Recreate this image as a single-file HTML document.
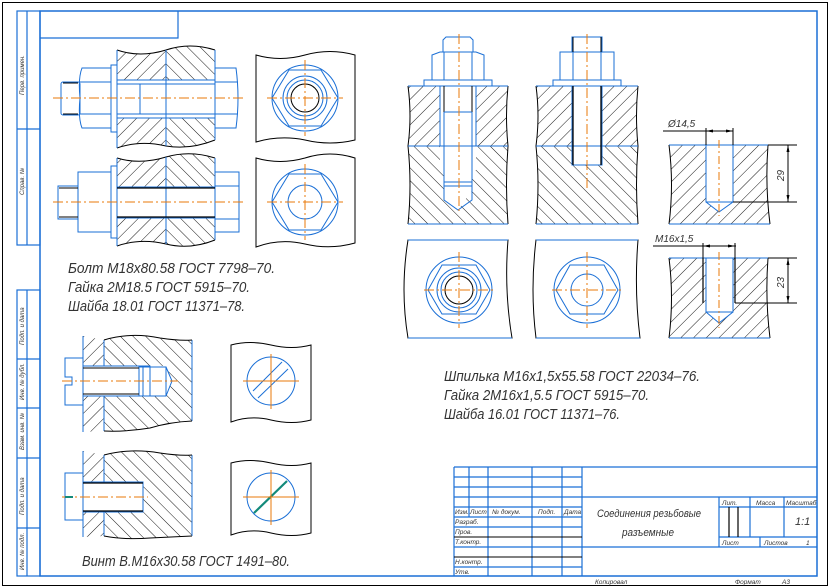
<!DOCTYPE html>
<html><head><meta charset="utf-8"><style>
html,body{margin:0;padding:0;background:#fff;}
svg{display:block;}
text{font-family:"Liberation Sans","DejaVu Sans",sans-serif;font-style:italic;fill:#333;}
</style></head><body>
<svg width="830" height="588" viewBox="0 0 830 588" xmlns="http://www.w3.org/2000/svg">
<defs>
<pattern id="hr" width="9" height="9" patternUnits="userSpaceOnUse" patternTransform="rotate(45)"><line x1="0" y1="0" x2="0" y2="9" stroke="#000" stroke-width="0.9"/></pattern>
<pattern id="hl" width="9" height="9" patternUnits="userSpaceOnUse" patternTransform="rotate(-45)"><line x1="0" y1="0" x2="0" y2="9" stroke="#000" stroke-width="0.9"/></pattern>
</defs>
<g fill="none">
<rect x="2.5" y="2.5" width="825" height="583" stroke="#000" stroke-width="1"/>
<rect x="40" y="11" width="777" height="565" stroke="#1a6fd6" stroke-width="1.5"/>
<g stroke="#1a6fd6" stroke-width="1.2">
<rect x="17" y="11" width="23" height="234"/><line x1="27" y1="11" x2="27" y2="245"/><line x1="17" y1="129" x2="40" y2="129"/>
<rect x="17" y="290" width="23" height="286"/><line x1="27" y1="290" x2="27" y2="576"/>
<line x1="17" y1="359" x2="40" y2="359"/><line x1="17" y1="408" x2="40" y2="408"/><line x1="17" y1="458" x2="40" y2="458"/><line x1="17" y1="528" x2="40" y2="528"/>
<polyline points="40,38 178,38 178,11"/>
</g>
</g>
<g font-size="6" fill="#333">
<text transform="translate(24,95) rotate(-90)">Перв. примен.</text>
<text transform="translate(24,195) rotate(-90)">Справ. №</text>
<text transform="translate(24,345) rotate(-90)">Подп. и дата</text>
<text transform="translate(24,400) rotate(-90)">Инв. № дубл.</text>
<text transform="translate(24,450) rotate(-90)">Взам. инв. №</text>
<text transform="translate(24,515) rotate(-90)">Подп. и дата</text>
<text transform="translate(24,570) rotate(-90)">Инв. № подл.</text>
</g>

<!-- Bolt 1 -->
<g stroke-width="1">
<path d="M117,50 Q140,58 166,50 L166,80 L117,80 Z" fill="url(#hr)"/>
<path d="M166,50 Q190,42 215,50 L215,80 L166,80 Z" fill="url(#hl)"/>
<path d="M117,118 L166,118 L166,146 Q140,140 117,148 Z" fill="url(#hr)"/>
<path d="M166,118 L215,118 L215,140 Q190,150 166,146 Z" fill="url(#hl)"/>
<path d="M117,50 Q140,58 166,50 Q190,42 215,50 M117,148 Q140,140 166,146 Q190,150 215,140" stroke="#000" fill="none"/>
<g stroke="#1a6fd6" fill="none">
<line x1="117" y1="50" x2="117" y2="148"/><line x1="215" y1="50" x2="215" y2="140"/><line x1="166" y1="50" x2="166" y2="146"/>
<line x1="117" y1="80" x2="215" y2="80"/><line x1="117" y1="118" x2="215" y2="118"/>
<line x1="117" y1="84" x2="215" y2="84"/><line x1="117" y1="114" x2="215" y2="114"/>
<rect x="111" y="65" width="6" height="67"/>
<path d="M82,68 L111,68 L111,128 L82,128 Q78,118 80,98 Q78,78 82,68 Z"/><line x1="80" y1="82" x2="111" y2="82"/><line x1="80" y1="114" x2="111" y2="114"/>
<rect x="61" y="82" width="19" height="33" rx="2"/><line x1="140" y1="84" x2="140" y2="114"/>
<path d="M215,68 L236,68 Q240,98 236,128 L215,128 Z"/><line x1="215" y1="82" x2="238" y2="82"/><line x1="215" y1="114" x2="238" y2="114"/>
</g>
<line x1="63" y1="83" x2="78" y2="83" stroke="#000"/><line x1="63" y1="114" x2="78" y2="114" stroke="#000"/>
<line x1="53" y1="98" x2="246" y2="98" stroke="#e8780a" stroke-dasharray="10,3,2,3"/>
<path d="M256,55 Q280,62 305,55 Q330,48 355,55 L355,140 Q330,146 305,140 Q280,135 256,142 Z" stroke="#000" fill="none"/>
<g stroke="#1a6fd6" fill="none"><circle cx="305" cy="98" r="33"/><polygon points="289,70 321,70 338,98 321,126 289,126 272,98"/><circle cx="305" cy="98" r="22"/><circle cx="305" cy="98" r="18"/></g>
<circle cx="305" cy="98" r="14" stroke="#000" fill="none"/>
<g stroke="#e8780a" stroke-dasharray="10,3,2,3"><line x1="267" y1="98" x2="343" y2="98"/><line x1="305" y1="60" x2="305" y2="136"/></g>
</g>

<!-- Bolt 2 -->
<g stroke-width="1">
<path d="M117,158 Q140,165 166,157 L166,187 L117,187 Z" fill="url(#hr)"/>
<path d="M166,157 Q190,150 215,158 L215,187 L166,187 Z" fill="url(#hl)"/>
<path d="M117,218 L166,218 L166,244 Q140,238 117,246 Z" fill="url(#hr)"/>
<path d="M166,218 L215,218 L215,240 Q190,250 166,244 Z" fill="url(#hl)"/>
<path d="M117,158 Q140,165 166,157 Q190,150 215,158 M117,246 Q140,238 166,244 Q190,250 215,240" stroke="#000" fill="none"/>
<g stroke="#1a6fd6" fill="none">
<line x1="117" y1="158" x2="117" y2="246"/><line x1="215" y1="158" x2="215" y2="240"/><line x1="166" y1="157" x2="166" y2="244"/>
<line x1="117" y1="187" x2="215" y2="187"/><line x1="117" y1="218" x2="215" y2="218"/>
<rect x="111" y="166" width="6" height="72"/>
<rect x="78" y="172" width="33" height="60"/><rect x="58" y="186" width="20" height="33"/>
<rect x="215" y="172" width="24" height="60"/><line x1="215" y1="186" x2="239" y2="186"/><line x1="215" y1="219" x2="239" y2="219"/>
</g>
<line x1="117" y1="188" x2="215" y2="188" stroke="#000" stroke-width="1.2"/><line x1="117" y1="217" x2="215" y2="217" stroke="#000" stroke-width="1.2"/>
<line x1="59" y1="188" x2="78" y2="188" stroke="#000"/><line x1="59" y1="217" x2="78" y2="217" stroke="#000"/>
<line x1="53" y1="202" x2="246" y2="202" stroke="#e8780a" stroke-dasharray="10,3,2,3"/>
<path d="M256,158 Q280,165 305,158 Q330,150 355,158 L355,243 Q330,250 305,244 Q280,238 256,247 Z" stroke="#000" fill="none"/>
<g stroke="#1a6fd6" fill="none"><circle cx="305" cy="202" r="33"/><polygon points="289,174 321,174 338,202 321,230 289,230 272,202"/><circle cx="305" cy="202" r="17"/></g>
<g stroke="#e8780a" stroke-dasharray="10,3,2,3"><line x1="267" y1="202" x2="343" y2="202"/><line x1="305" y1="164" x2="305" y2="240"/></g>
</g>

<text x="68" y="273" font-size="14.5" textLength="207" lengthAdjust="spacingAndGlyphs">Болт М18х80.58 ГОСТ 7798–70.</text>
<text x="68" y="292" font-size="14.5" textLength="182" lengthAdjust="spacingAndGlyphs">Гайка 2М18.5 ГОСТ 5915–70.</text>
<text x="68" y="311" font-size="14.5" textLength="177" lengthAdjust="spacingAndGlyphs">Шайба 18.01 ГОСТ 11371–78.</text>

<!-- Screw 1 -->
<g stroke-width="1">
<path d="M83,336 L104,340 L104,366 L83,366 Z M83,396 L104,396 L104,431 L83,432 Z" fill="url(#hr)"/>
<path d="M104,340 Q130,332 160,338 Q180,341 192,340 L192,421 Q170,422 150,428 Q125,432 104,431 L104,396 L166,396 L172,381 L166,366 L104,366 Z" fill="url(#hl)"/>
<g stroke="#1a6fd6" fill="none">
<line x1="83" y1="336" x2="83" y2="432"/><line x1="192" y1="340" x2="192" y2="421"/><line x1="104" y1="340" x2="104" y2="366"/><line x1="104" y1="396" x2="104" y2="431"/>
<path d="M83,358 L65,358 L65,377 L72,377 L72,385 L65,385 L65,405 L83,405"/>
<rect x="83" y="366" width="67" height="30"/><rect x="139" y="367" width="27" height="29"/><line x1="143" y1="367" x2="143" y2="396"/>
<path d="M166,367 L172,381 L166,396"/>
</g>
<path d="M104,340 Q130,332 160,338 Q180,341 192,340 M104,431 Q125,432 150,428 Q170,422 192,421" stroke="#000" fill="none"/>
<line x1="83" y1="368" x2="139" y2="368" stroke="#000"/><line x1="83" y1="394" x2="139" y2="394" stroke="#000"/>
<line x1="62" y1="381" x2="178" y2="381" stroke="#e8780a" stroke-dasharray="10,3,2,3"/>
<path d="M231,345 Q250,340 271,345 Q292,350 311,345 L311,420 Q292,425 271,420 Q250,415 231,422 Z" stroke="#000" fill="none"/>
<circle cx="271" cy="381" r="24" stroke="#1a6fd6" fill="none"/>
<g stroke="#1a6fd6"><line x1="253" y1="391" x2="282" y2="362"/><line x1="258" y1="398" x2="288" y2="369"/></g>
<g stroke="#e8780a"><line x1="243" y1="381" x2="299" y2="381"/><line x1="271" y1="354" x2="271" y2="409"/></g>
</g>

<!-- Screw 2 -->
<g stroke-width="1">
<path d="M83,451 L104,455 L104,482 L83,482 Z M83,512 L104,512 L104,536 L83,537 Z" fill="url(#hr)"/>
<path d="M104,455 Q130,448 160,453 Q180,456 192,455 L192,536 Q170,537 150,538 Q125,540 104,536 L104,512 L143,512 L143,482 L104,482 Z" fill="url(#hl)"/>
<g stroke="#1a6fd6" fill="none">
<line x1="83" y1="451" x2="83" y2="537"/><line x1="192" y1="455" x2="192" y2="536"/><line x1="104" y1="455" x2="104" y2="482"/><line x1="104" y1="512" x2="104" y2="536"/>
<path d="M83,473 L65,473 L65,520 L83,520"/>
<rect x="83" y="482" width="60" height="30"/>
</g>
<path d="M104,455 Q130,448 160,453 Q180,456 192,455 M104,536 Q125,540 150,538 Q170,537 192,536" stroke="#000" fill="none"/>
<line x1="83" y1="483" x2="143" y2="483" stroke="#000" stroke-width="1.3"/><line x1="83" y1="511" x2="143" y2="511" stroke="#000" stroke-width="1.3"/>
<line x1="62" y1="497" x2="148" y2="497" stroke="#e8780a" stroke-dasharray="10,3,2,3"/>
<line x1="65" y1="497" x2="73" y2="497" stroke="#138a7a" stroke-width="2"/>
<path d="M231,463 Q250,458 271,463 Q292,468 311,463 L311,533 Q292,538 271,533 Q250,528 231,535 Z" stroke="#000" fill="none"/>
<circle cx="271" cy="497" r="24" stroke="#1a6fd6" fill="none"/>
<line x1="254" y1="513" x2="287" y2="481" stroke="#138a7a" stroke-width="2.2"/>
<g stroke="#e8780a"><line x1="243" y1="497" x2="299" y2="497"/><line x1="271" y1="470" x2="271" y2="525"/></g>
</g>
<text x="82" y="566" font-size="14.5" textLength="208" lengthAdjust="spacingAndGlyphs">Винт В.М16х30.58 ГОСТ 1491–80.</text>

<!-- Stud 1 -->
<g stroke-width="1">
<path d="M408,86 L508,86 Q505,116 508,146 L408,146 Q412,116 408,86 Z" fill="url(#hr)"/>
<path d="M408,146 L508,146 Q505,185 508,224 L408,224 Q412,185 408,146 Z" fill="url(#hl)"/>
<rect x="440" y="86" width="36" height="84" fill="#fff"/><rect x="444" y="170" width="28" height="20" fill="#fff"/><path d="M444,190 L472,190 L458,210 Z" fill="#fff"/>
<path d="M408,86 Q412,116 408,146 Q412,185 408,224 M508,86 Q505,116 508,146 Q505,185 508,224" stroke="#000" fill="none"/>
<g stroke="#1a6fd6" fill="none">
<line x1="408" y1="86" x2="508" y2="86"/><line x1="408" y1="146" x2="508" y2="146"/><line x1="408" y1="224" x2="508" y2="224"/>
<line x1="440" y1="86" x2="440" y2="146"/><line x1="476" y1="86" x2="476" y2="146"/>
<rect x="424" y="80" width="68" height="6"/>
<path d="M432,80 L432,55 L440,52 L476,52 L484,55 L484,80"/><line x1="444" y1="52" x2="444" y2="80"/><line x1="472" y1="52" x2="472" y2="80"/>
<path d="M443,52 L443,40 L446,37 L470,37 L473,40 L473,52"/>
<rect x="444" y="86" width="28" height="100"/><line x1="444" y1="182" x2="472" y2="182"/><path d="M444,186 L444,200 L458,210 L472,200 L472,186"/>
</g>
<line x1="444" y1="86" x2="444" y2="112" stroke="#000"/><line x1="472" y1="86" x2="472" y2="112" stroke="#000"/><line x1="444" y1="112" x2="472" y2="112" stroke="#1a6fd6"/>
<line x1="459" y1="34" x2="459" y2="212" stroke="#e8780a" stroke-dasharray="10,3,2,3"/>
</g>
<!-- Stud 2 -->
<g stroke-width="1">
<path d="M536,86 L638,86 Q635,116 638,146 L536,146 Q540,116 536,86 Z" fill="url(#hr)"/>
<path d="M536,146 L638,146 Q635,185 638,224 L536,224 Q540,185 536,146 Z" fill="url(#hl)"/>
<rect x="572" y="86" width="30" height="79" fill="#fff"/>
<path d="M536,86 Q540,116 536,146 Q540,185 536,224 M638,86 Q635,116 638,146 Q635,185 638,224" stroke="#000" fill="none"/>
<g stroke="#1a6fd6" fill="none">
<line x1="536" y1="86" x2="638" y2="86"/><line x1="536" y1="146" x2="638" y2="146"/><line x1="536" y1="224" x2="638" y2="224"/>
<rect x="553" y="80" width="68" height="6"/>
<rect x="560" y="52" width="54" height="28"/><line x1="573" y1="52" x2="573" y2="80"/><line x1="601" y1="52" x2="601" y2="80"/>
<rect x="572" y="37" width="30" height="15"/>
<rect x="572" y="86" width="30" height="79"/>
</g>
<line x1="573" y1="86" x2="573" y2="165" stroke="#000" stroke-width="1.3"/><line x1="601" y1="86" x2="601" y2="165" stroke="#000" stroke-width="1.3"/>
<line x1="573" y1="37" x2="573" y2="52" stroke="#000"/><line x1="601" y1="37" x2="601" y2="52" stroke="#000"/>
<line x1="587" y1="34" x2="587" y2="190" stroke="#e8780a" stroke-dasharray="10,3,2,3"/>
</g>
<g stroke-width="1">
<path d="M408,240 L508,240 Q504,290 512,338 L408,338 Q400,290 408,240 Z" stroke="#000" fill="none"/>
<line x1="408" y1="240" x2="508" y2="240" stroke="#1a6fd6"/><line x1="408" y1="338" x2="512" y2="338" stroke="#1a6fd6"/>
<g stroke="#1a6fd6" fill="none"><circle cx="459" cy="290" r="33"/><polygon points="442,265 476,265 490,290 476,314 442,314 428,290"/><circle cx="459" cy="290" r="22"/><circle cx="459" cy="290" r="18"/></g>
<circle cx="459" cy="290" r="14" stroke="#000" fill="none"/>
<g stroke="#e8780a" stroke-dasharray="10,3,2,3"><line x1="424" y1="290" x2="496" y2="290"/><line x1="459" y1="252" x2="459" y2="328"/></g>
<path d="M536,240 L638,240 Q634,290 640,338 L536,338 Q530,290 536,240 Z" stroke="#000" fill="none"/>
<line x1="536" y1="240" x2="638" y2="240" stroke="#1a6fd6"/><line x1="536" y1="338" x2="640" y2="338" stroke="#1a6fd6"/>
<g stroke="#1a6fd6" fill="none"><circle cx="587" cy="290" r="33"/><polygon points="570,265 604,265 618,290 604,314 570,314 556,290"/><circle cx="587" cy="290" r="16"/></g>
<g stroke="#e8780a" stroke-dasharray="10,3,2,3"><line x1="552" y1="290" x2="624" y2="290"/><line x1="587" y1="252" x2="587" y2="328"/></g>
</g>

<!-- Holes -->
<g stroke-width="1">
<path d="M669,145 L768,145 Q765,185 770,224 L669,224 Q674,185 669,145 Z" fill="url(#hr)"/>
<path d="M706,145 L733,145 L733,202 L719,212 L706,202 Z" fill="#fff"/>
<path d="M669,145 Q674,185 669,224 M768,145 Q765,185 770,224" stroke="#000" fill="none"/>
<g stroke="#1a6fd6" fill="none"><line x1="669" y1="145" x2="768" y2="145"/><line x1="669" y1="224" x2="770" y2="224"/><rect x="706" y="145" width="27" height="57"/><path d="M706,202 L719,212 L733,202"/></g>
<line x1="719" y1="140" x2="719" y2="216" stroke="#e8780a" stroke-dasharray="8,3,2,3"/>
<g stroke="#000"><line x1="706" y1="145" x2="706" y2="128"/><line x1="733" y1="145" x2="733" y2="128"/><line x1="663" y1="131" x2="733" y2="131"/>
<line x1="733" y1="202" x2="797" y2="202"/><line x1="768" y1="145" x2="797" y2="145"/><line x1="788" y1="145" x2="788" y2="202"/></g>
<g fill="#000"><path d="M706,131 l7,-1.5 v3z"/><path d="M733,131 l-7,-1.5 v3z"/><path d="M788,145 l-1.5,7 h3z"/><path d="M788,202 l-1.5,-7 h3z"/></g>
<text x="668" y="127" font-size="10">Ø14,5</text>
<text transform="translate(784,181) rotate(-90)" font-size="10">29</text>

<path d="M669,258 L768,258 Q765,298 770,338 L669,338 Q674,298 669,258 Z" fill="url(#hr)"/>
<path d="M706,258 L733,258 L733,312 L719,323 L706,312 Z" fill="#fff"/>
<path d="M669,258 Q674,298 669,338 M768,258 Q765,298 770,338" stroke="#000" fill="none"/>
<g stroke="#1a6fd6" fill="none"><line x1="669" y1="258" x2="768" y2="258"/><line x1="669" y1="338" x2="770" y2="338"/><rect x="706" y="258" width="27" height="54"/><path d="M706,312 L719,323 L733,312"/></g>
<line x1="703" y1="258" x2="703" y2="303" stroke="#000" stroke-width="1.2"/><line x1="735" y1="258" x2="735" y2="303" stroke="#000" stroke-width="1.2"/>
<line x1="719" y1="252" x2="719" y2="328" stroke="#e8780a" stroke-dasharray="8,3,2,3"/>
<g stroke="#000"><line x1="703" y1="258" x2="703" y2="243"/><line x1="735" y1="258" x2="735" y2="243"/><line x1="653" y1="246" x2="736" y2="246"/>
<line x1="735" y1="303" x2="797" y2="303"/><line x1="768" y1="258" x2="797" y2="258"/><line x1="788" y1="258" x2="788" y2="303"/></g>
<g fill="#000"><path d="M703,246 l7,-1.5 v3z"/><path d="M735,246 l-7,-1.5 v3z"/><path d="M788,258 l-1.5,7 h3z"/><path d="M788,303 l-1.5,-7 h3z"/></g>
<text x="655" y="242" font-size="10">M16x1,5</text>
<text transform="translate(784,288) rotate(-90)" font-size="10">23</text>
</g>

<text x="444" y="381" font-size="14.5" textLength="256" lengthAdjust="spacingAndGlyphs">Шпилька М16х1,5х55.58 ГОСТ 22034–76.</text>
<text x="444" y="400" font-size="14.5" textLength="205" lengthAdjust="spacingAndGlyphs">Гайка 2М16х1,5.5 ГОСТ 5915–70.</text>
<text x="444" y="419" font-size="14.5" textLength="176" lengthAdjust="spacingAndGlyphs">Шайба 16.01 ГОСТ 11371–76.</text>

<!-- Title block -->
<g stroke="#1a6fd6" stroke-width="1.2" fill="none">
<line x1="454" y1="467" x2="817" y2="467"/><line x1="454" y1="467" x2="454" y2="576"/>
<line x1="454" y1="477" x2="582" y2="477"/><line x1="454" y1="487" x2="582" y2="487"/><line x1="454" y1="497" x2="817" y2="497"/>
<line x1="454" y1="507" x2="582" y2="507"/><line x1="454" y1="517" x2="582" y2="517"/><line x1="454" y1="527" x2="582" y2="527"/>
<line x1="454" y1="547" x2="817" y2="547"/><line x1="454" y1="567" x2="582" y2="567"/>
<line x1="469" y1="467" x2="469" y2="517"/><line x1="488" y1="467" x2="488" y2="576"/><line x1="532" y1="467" x2="532" y2="576"/><line x1="562" y1="467" x2="562" y2="576"/><line x1="582" y1="467" x2="582" y2="576"/>
<line x1="719" y1="497" x2="719" y2="547"/><line x1="719" y1="507" x2="817" y2="507"/><line x1="719" y1="537" x2="817" y2="537"/>
<line x1="750" y1="497" x2="750" y2="537"/><line x1="784" y1="497" x2="784" y2="537"/><line x1="760" y1="537" x2="760" y2="547"/>
</g>
<line x1="729" y1="507" x2="729" y2="537" stroke="#000" stroke-width="1.2"/><line x1="738" y1="507" x2="738" y2="537" stroke="#000" stroke-width="1.2"/>
<line x1="454" y1="557" x2="582" y2="557" stroke="#000"/><line x1="454" y1="537" x2="582" y2="537" stroke="#000"/>
<g font-size="6.5">
<text x="455" y="514">Изм.</text><text x="470" y="514">Лист</text><text x="492" y="514">№ докум.</text><text x="538" y="514">Подп.</text><text x="564" y="514">Дата</text>
<text x="455" y="524">Разраб.</text><text x="455" y="534">Пров.</text><text x="455" y="544">Т.контр.</text><text x="455" y="564">Н.контр.</text><text x="455" y="574">Утв.</text>
<text x="722" y="505">Лит.</text><text x="756" y="505">Масса</text><text x="786" y="505">Масштаб</text>
<text x="722" y="545">Лист</text><text x="764" y="545">Листов</text><text x="806" y="545">1</text>
<text x="595" y="584">Копировал</text><text x="735" y="584">Формат</text><text x="782" y="584">А3</text>
</g>
<text x="597" y="517" font-size="11" textLength="104" lengthAdjust="spacingAndGlyphs">Соединения резьбовые</text>
<text x="622" y="536" font-size="11" textLength="52" lengthAdjust="spacingAndGlyphs">разъемные</text>
<text x="795" y="525" font-size="11">1:1</text>
</svg>
</body></html>
